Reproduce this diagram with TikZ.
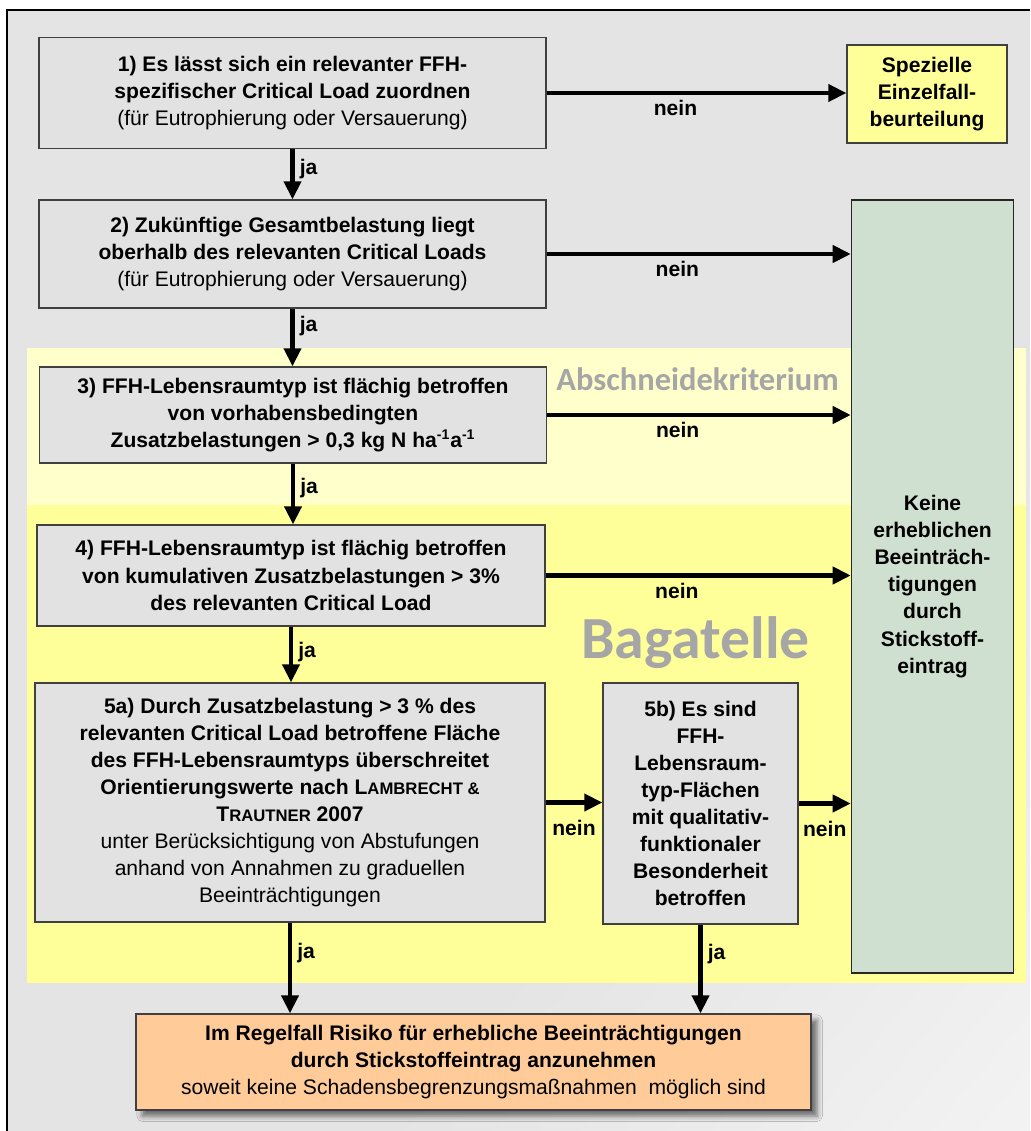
\documentclass[tikz,border=0pt]{standalone}
\usepackage{fontspec}
\setmainfont{Liberation Sans}
\newfontfamily\markfont{Carlito}
\usepackage{tikz}
\usetikzlibrary{arrows.meta,positioning,shadows.blur}

\definecolor{bggray}{HTML}{E4E4E4}
\definecolor{bglight}{HTML}{FCFCFC}
\definecolor{boxgray}{HTML}{E2E2E2}
\definecolor{paleyellow}{HTML}{FFFFCC}
\definecolor{lightyellow}{HTML}{FFFF99}
\definecolor{sagegreen}{HTML}{D0E0D0}
\definecolor{apricot}{HTML}{FFCC99}
\definecolor{labelgray}{HTML}{A6A6A6}
\pgfdeclarehorizontalshading{bgfade}{100bp}{color(0bp)=(bggray); color(62bp)=(bggray); color(100bp)=(bglight)}
\newcommand{\smcap}[1]{{\fontsize{9.5}{10}\selectfont #1}}

\begin{document}
\begin{tikzpicture}[x=0.02cm,y=-0.02cm,font=\fontsize{12}{15.4}\selectfont,>={Triangle[length=0.36cm,width=0.34cm]},
  qbox/.style={rectangle,fill=boxgray,draw=black!75,line width=0.8pt,inner sep=2pt,align=center},
  flow/.style={->,draw=black,line width=2.3pt},
  lbl/.style={font=\fontsize{12}{14}\selectfont\bfseries,inner sep=2pt},
  zone/.style={text=labelgray,anchor=base,inner sep=0pt,font=\markfont\bfseries\fontsize{#1}{#1}\selectfont}]
\useasboundingbox (0,0) rectangle (1030,1131);
\shade[shading=bgfade,shading angle=-40] (7,10) rectangle (1030,1131);
\draw[line width=1.4pt] (7,1131) -- (7,10) -- (1030,10);
\fill[paleyellow] (27,348) rectangle (1026,505);
\fill[lightyellow] (27,505) rectangle (1026,983);

\node[qbox,minimum width=10.14cm,minimum height=2.22cm] (crit) at (292.5,93) {\textbf{1) Es lässt sich ein relevanter FFH-}\\\textbf{spezifischer Critical Load zuordnen}\\(für Eutrophierung oder Versauerung)};
\node[qbox,fill=lightyellow,minimum width=3.2cm,minimum height=1.96cm,font=\fontsize{12}{15.4}\selectfont\bfseries] (special) at (927,94) {Spezielle\\Einzelfall-\\beurteilung};
\node[qbox,minimum width=10.14cm,minimum height=2.16cm] (gesamt) at (292.5,254) {\textbf{2) Zukünftige Gesamtbelastung liegt}\\\textbf{oberhalb des relevanten Critical Loads}\\(für Eutrophierung oder Versauerung)};
\node[qbox,fill=sagegreen,draw=black!85,line width=0.9pt,minimum width=3.24cm,minimum height=15.46cm,font=\fontsize{12}{15.4}\selectfont\bfseries] (keine) at (932.5,586.5) {Keine\\erheblichen\\Beeinträch-\\tigungen\\durch\\Stickstoff-\\eintrag};
\node[qbox,minimum width=10.14cm,minimum height=1.92cm,font=\fontsize{12}{15.4}\selectfont\bfseries] (cutoff) at (293,415) {3) FFH-Lebensraumtyp ist flächig betroffen\\von vorhabensbedingten\\Zusatzbelastungen > 0,3 kg N ha\textsuperscript{-1}a\textsuperscript{-1}};
\node[qbox,minimum width=10.16cm,minimum height=2.02cm,font=\fontsize{12}{15.4}\selectfont\bfseries] (cumul) at (291,575.5) {4) FFH-Lebensraumtyp ist flächig betroffen\\von kumulativen Zusatzbelastungen > 3\%\\des relevanten Critical Load};
\node[qbox,minimum width=10.2cm,minimum height=4.78cm] (orient) at (290,802.5) {\textbf{5a) Durch Zusatzbelastung > 3 \% des}\\\textbf{relevanten Critical Load betroffene Fläche}\\\textbf{des FFH-Lebensraumtyps überschreitet}\\\textbf{Orientierungswerte nach L\smcap{AMBRECHT \&}}\\\textbf{T\smcap{RAUTNER} 2007}\\unter Berücksichtigung von Abstufungen\\anhand von Annahmen zu graduellen\\Beeinträchtigungen};
\node[qbox,minimum width=3.9cm,minimum height=4.82cm,font=\fontsize{12}{15.4}\selectfont\bfseries] (quality) at (700.5,803.5) {5b) Es sind\\FFH-\\Lebensraum-\\typ-Flächen\\mit qualitativ-\\funktionaler\\Besonderheit\\betroffen};
\node[qbox,fill=apricot,minimum width=13.5cm,minimum height=1.92cm,blur shadow={shadow xshift=3.5pt,shadow yshift=-3.5pt,shadow blur radius=3pt,shadow opacity=55}] (risiko) at (473.5,1062) {\textbf{Im Regelfall Risiko für erhebliche Beeinträchtigungen}\\\textbf{durch Stickstoffeintrag anzunehmen}\\soweit keine Schadensbegrenzungsmaßnahmen\ \ möglich sind};

\node[zone=18.5] (cutofftag) at (697.5,390) {Abschneidekriterium};
\node[zone=34] (bagtag) at (695.5,658) {Bagatelle};

\draw[flow] (crit) -- node[pos=0.4,right=1pt,lbl] {ja} (gesamt);
\draw[flow] (gesamt.south) -- node[pos=0.3,right=1pt,lbl] {ja} (gesamt.south |- cutoff.north);
\draw[flow] (cutoff.south) -- node[pos=0.4,right=1pt,lbl] {ja} (cutoff.south |- cumul.north);
\draw[flow] (cumul.south) -- node[pos=0.45,right=1pt,lbl] {ja} (cumul.south |- orient.north);
\draw[flow] (orient.south) -- node[pos=0.33,right=1pt,lbl] {ja} (orient.south |- risiko.north);
\draw[flow] (quality.south) -- node[pos=0.33,right=1pt,lbl] {ja} (quality.south |- risiko.north);
\draw[flow] (crit.east) -- node[pos=0.43,below=1pt,lbl] {nein} (crit.east -| special.west);
\draw[flow] (gesamt.east) -- node[pos=0.43,below=1pt,lbl] {nein} (gesamt.east -| keine.west);
\draw[flow] (cutoff.east) -- node[pos=0.43,below=1pt,lbl] {nein} (cutoff.east -| keine.west);
\draw[flow] (cumul.east) -- node[pos=0.43,below=1pt,lbl] {nein} (cumul.east -| keine.west);
\draw[flow] (orient.east) -- node[midway,below=7pt,lbl] {nein} (orient.east -| quality.west);
\draw[flow] (quality.east) -- node[midway,below=7pt,lbl] {nein} (quality.east -| keine.west);
\end{tikzpicture}
\end{document}
